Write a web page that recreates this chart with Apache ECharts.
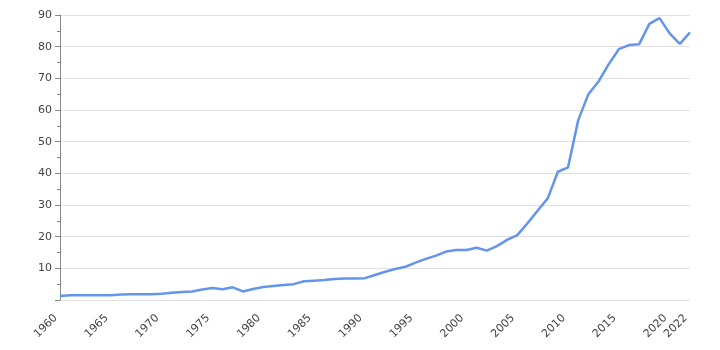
<!DOCTYPE html>
<html>
<head>
<meta charset="utf-8">
<script src="https://cdn.jsdelivr.net/npm/echarts@6/dist/echarts.min.js"></script>
<style>
html,body{margin:0;padding:0;background:#fff;}
#chart{width:720px;height:350px;}
</style>
</head>
<body>
<div id="chart"></div>
<script>
const years = [1960,1961,1962,1963,1964,1965,1966,1967,1968,1969,
  1970,1971,1972,1973,1974,1975,1976,1977,1978,1979,
  1980,1981,1982,1983,1984,1985,1986,1987,1988,1989,
  1990,1991,1992,1993,1994,1995,1996,1997,1998,1999,
  2000,2001,2002,2003,2004,2005,2006,2007,2008,2009,
  2010,2011,2012,2013,2014,2015,2016,2017,2018,2019,
  2020,2021,2022];
const values = [1.3,1.5,1.5,1.5,1.5,1.5,1.7,1.8,1.8,1.8,
  2.0,2.3,2.5,2.7,3.3,3.8,3.4,4.0,2.7,3.5,
  4.1,4.4,4.7,5.0,5.9,6.1,6.3,6.6,6.8,6.8,
  6.9,7.9,8.9,9.8,10.5,11.8,13.0,14.0,15.3,15.8,
  15.8,16.5,15.6,17.0,19.0,20.5,24.2,28.2,32.1,40.5,
  41.9,56.8,65.0,69.0,74.5,79.2,80.5,80.8,87.2,89.0,
  84.2,80.9,84.5];
const yTicks = [0,10,20,30,40,50,60,70,80,90];

const chart = echarts.init(document.getElementById('chart'), null, {renderer:'canvas'});
chart.setOption({
  animation:false,
  backgroundColor:'#fff',
  grid:{left:60,right:30,top:15,bottom:50,containLabel:false},
  xAxis:{
    type:'value',min:years[0],max:years[years.length-1],interval:5,
    axisLine:{show:false},axisTick:{show:false},splitLine:{show:false},
    axisLabel:{rotate:45,color:'#444',fontSize:11,fontFamily:'DejaVu Sans',margin:12,
      padding:[0,6,0,0],
      showMinLabel:true,showMaxLabel:true,formatter:v=>String(v)}
  },
  yAxis:{
    type:'value',min:yTicks[0],max:yTicks[yTicks.length-1],interval:10,
    axisLine:{show:true,lineStyle:{color:'#888',width:1}},
    axisTick:{show:true,length:5,lineStyle:{color:'#888'}},
    minorTick:{show:true,splitNumber:2,length:3,lineStyle:{color:'#888'}},
    splitLine:{show:true,lineStyle:{color:'#e2e2e2',width:1}},
    axisLabel:{color:'#444',fontSize:11,fontFamily:'DejaVu Sans',margin:8,
      showMinLabel:false,formatter:v=>v===0?'':String(v)}
  },
  series:[{
    type:'line',
    data:years.map((y,i)=>[y,values[i]]),
    showSymbol:false,symbol:'none',
    lineStyle:{color:'#6495ed',width:2.5},
    itemStyle:{color:'#6495ed'}
  }]
});
</script>
</body>
</html>
